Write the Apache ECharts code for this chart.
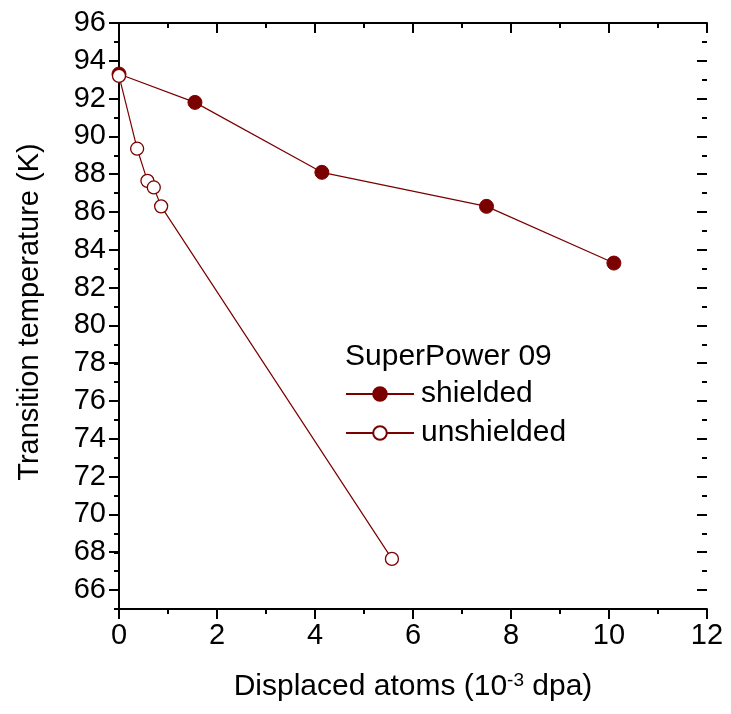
<!DOCTYPE html>
<html>
<head>
<meta charset="utf-8">
<script src="https://cdn.jsdelivr.net/npm/echarts@6/dist/echarts.min.js"></script>
<style>html,body{margin:0;padding:0;background:#fff;}#c{width:731px;height:714px;}</style>
</head>
<body>
<div id="c"></div>
<script>
const legendTitle = 'SuperPower 09';
const seriesNames = ['shielded', 'unshielded'];
const shieldedX = [0, 1.55, 4.14, 7.5, 10.1];
const shieldedY = [93.3, 91.8, 88.1, 86.3, 83.3];
const unshieldedX = [0, 0.37, 0.58, 0.71, 0.86, 5.57];
const unshieldedY = [93.2, 89.35, 87.65, 87.3, 86.3, 67.65];
const xTitle = 'Displaced atoms (10';
const yTitle = 'Transition temperature (K)';

const FONT = 'Liberation Sans, Arial, sans-serif';
const RED = '#7b0000';
const grid1 = {left: 119, right: 24, top: 23, bottom: 105};
const grid2 = {left: 119, right: 24, top: 23, bottom: 124};

const chart = echarts.init(document.getElementById('c'), null, {renderer: 'canvas'});
const axisLine = {show: true, lineStyle: {color: '#000', width: 2}};
const tickStyle = {color: '#000', width: 2};
chart.setOption({
  backgroundColor: '#fff',
  animation: false,
  textStyle: {fontFamily: FONT},
  title: {
    text: legendTitle, left: 340, top: 337,
    textStyle: {fontFamily: FONT, fontSize: 30, fontWeight: 'normal', color: '#000'}
  },
  legend: {
    orient: 'vertical', left: 340, top: 374, itemWidth: 68, itemHeight: 17, itemGap: 9,
    textStyle: {fontFamily: FONT, fontSize: 30, color: '#000', padding: [0, 0, 0, 2]},
    data: seriesNames
  },
  grid: [
    Object.assign({show: false}, grid1),
    Object.assign({show: false}, grid2)
  ],
  xAxis: [
    {
      gridIndex: 0, type: 'value', min: 0, max: 12, interval: 2, position: 'bottom',
      name: '{a|' + xTitle + '}{s|-3}{a| dpa)}', nameLocation: 'middle', nameGap: 62,
      nameTextStyle: {rich: {
        a: {fontFamily: FONT, fontSize: 30, color: '#000'},
        s: {fontFamily: FONT, fontSize: 19, color: '#000', verticalAlign: 'top', padding: [0, 0, 12, 0]}
      }},
      axisLine: axisLine,
      axisTick: {show: true, inside: false, length: 10, lineStyle: tickStyle},
      minorTick: {show: true, splitNumber: 2, length: 5, lineStyle: tickStyle},
      axisLabel: {fontFamily: FONT, fontSize: 29, color: '#000', margin: 12},
      splitLine: {show: false}
    },
    {
      gridIndex: 0, type: 'value', min: 0, max: 12, interval: 2, position: 'top',
      axisLine: axisLine,
      axisTick: {show: true, inside: true, length: 10, lineStyle: tickStyle},
      minorTick: {show: true, splitNumber: 2, length: 5, lineStyle: tickStyle},
      axisLabel: {show: false}, splitLine: {show: false}
    },
    {
      gridIndex: 1, type: 'value', min: 0, max: 12, show: false
    }
  ],
  yAxis: [
    {
      gridIndex: 0, type: 'value', min: 65, max: 96, interval: 1, position: 'left',
      name: yTitle, nameLocation: 'middle', nameGap: 75,
      nameTextStyle: {fontFamily: FONT, fontSize: 29, color: '#000', padding: [0, 0, 0, 8]},
      axisLine: axisLine,
      axisTick: {show: true, inside: false, length: 5, lineStyle: tickStyle},
      axisLabel: {show: false}, splitLine: {show: false}
    },
    {
      gridIndex: 0, type: 'value', min: 65, max: 96, position: 'right',
      axisLine: axisLine,
      axisTick: {show: false},
      axisLabel: {show: false}, splitLine: {show: false}
    },
    {
      gridIndex: 1, type: 'value', min: 66, max: 96, interval: 2, position: 'left',
      axisLine: {show: false},
      axisTick: {show: true, inside: false, length: 10, lineStyle: tickStyle},
      axisLabel: {fontFamily: FONT, fontSize: 29, color: '#000', margin: 13},
      splitLine: {show: false}
    },
    {
      gridIndex: 1, type: 'value', min: 66, max: 96, interval: 2, position: 'right',
      axisLine: {show: false},
      axisTick: {show: true, inside: true, length: 10, lineStyle: tickStyle},
      minorTick: {show: true, splitNumber: 2, length: 5, lineStyle: tickStyle},
      axisLabel: {show: false}, splitLine: {show: false}
    }
  ],
  series: [
    {
      name: seriesNames[0], type: 'line', xAxisIndex: 0, yAxisIndex: 0,
      data: shieldedX.map((x, i) => [x, shieldedY[i]]),
      symbol: 'circle', symbolSize: 14,
      lineStyle: {color: RED, width: 1.2},
      itemStyle: {color: RED, borderColor: RED, borderWidth: 1},
      z: 2
    },
    {
      name: seriesNames[1], type: 'line', xAxisIndex: 0, yAxisIndex: 0,
      data: unshieldedX.map((x, i) => [x, unshieldedY[i]]),
      symbol: 'circle', symbolSize: 13,
      lineStyle: {color: RED, width: 1.2},
      itemStyle: {color: '#fff', borderColor: RED, borderWidth: 1.3},
      z: 3
    }
  ]
});
</script>
</body>
</html>
